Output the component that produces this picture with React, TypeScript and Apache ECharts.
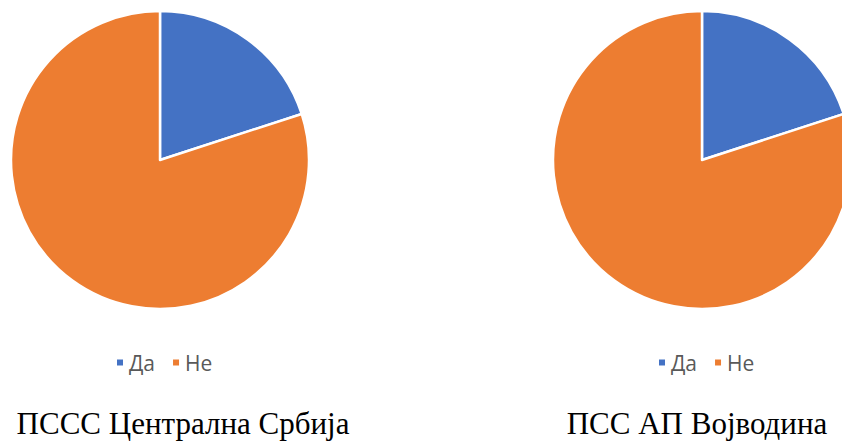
import React, { useEffect, useRef } from "react";
import * as echarts from "echarts";

const categories = ["Да", "Не"];
const centralSerbia = [20, 80];
const vojvodina = [20, 80];
const titles = ["ПССС Централна Србија", "ПСС АП Војводина"];
const colors = ["#4472C4", "#ED7D31"];

export default function App() {
  const ref = useRef<HTMLDivElement>(null);
  useEffect(() => {
    document.body.style.margin = "0";
    const chart = echarts.init(ref.current!, null, { renderer: "svg" });
    const mk = (vals: number[]) => categories.map((name, i) => ({ name, value: vals[i] }));
    const legendBase = {
      data: categories,
      icon: "rect",
      itemWidth: 8,
      itemHeight: 8,
      itemGap: 16,
      padding: 0,
      textStyle: { color: "#595959", fontSize: 21, fontFamily: "Open Sans" },
      selectedMode: false,
    };
    const titleStyle = { fontFamily: "Liberation Serif", fontSize: 31, fontWeight: "normal", color: "#000" };
    chart.setOption({
      animation: false,
      color: colors,
      title: [
        { text: titles[0], left: 183, textAlign: "center", top: 408, padding: 0, textStyle: titleStyle },
        { text: titles[1], left: 697, textAlign: "center", top: 408, padding: 0, textStyle: titleStyle },
      ],
      legend: [
        { ...legendBase, left: 115, top: 352 },
        { ...legendBase, left: 657, top: 352 },
      ],
      series: [
        {
          type: "pie",
          center: [160, 160],
          radius: 149,
          startAngle: 90,
          clockwise: true,
          label: { show: false },
          labelLine: { show: false },
          itemStyle: { borderColor: "#fff", borderWidth: 2.5 },
          emphasis: { disabled: true },
          data: mk(centralSerbia),
        },
        {
          type: "pie",
          center: [702, 160],
          radius: 149,
          startAngle: 90,
          clockwise: true,
          label: { show: false },
          labelLine: { show: false },
          itemStyle: { borderColor: "#fff", borderWidth: 2.5 },
          emphasis: { disabled: true },
          data: mk(vojvodina),
        },
      ],
    });
    return () => chart.dispose();
  }, []);
  return <div ref={ref} style={{ width: 842, height: 443 }} />;
}
